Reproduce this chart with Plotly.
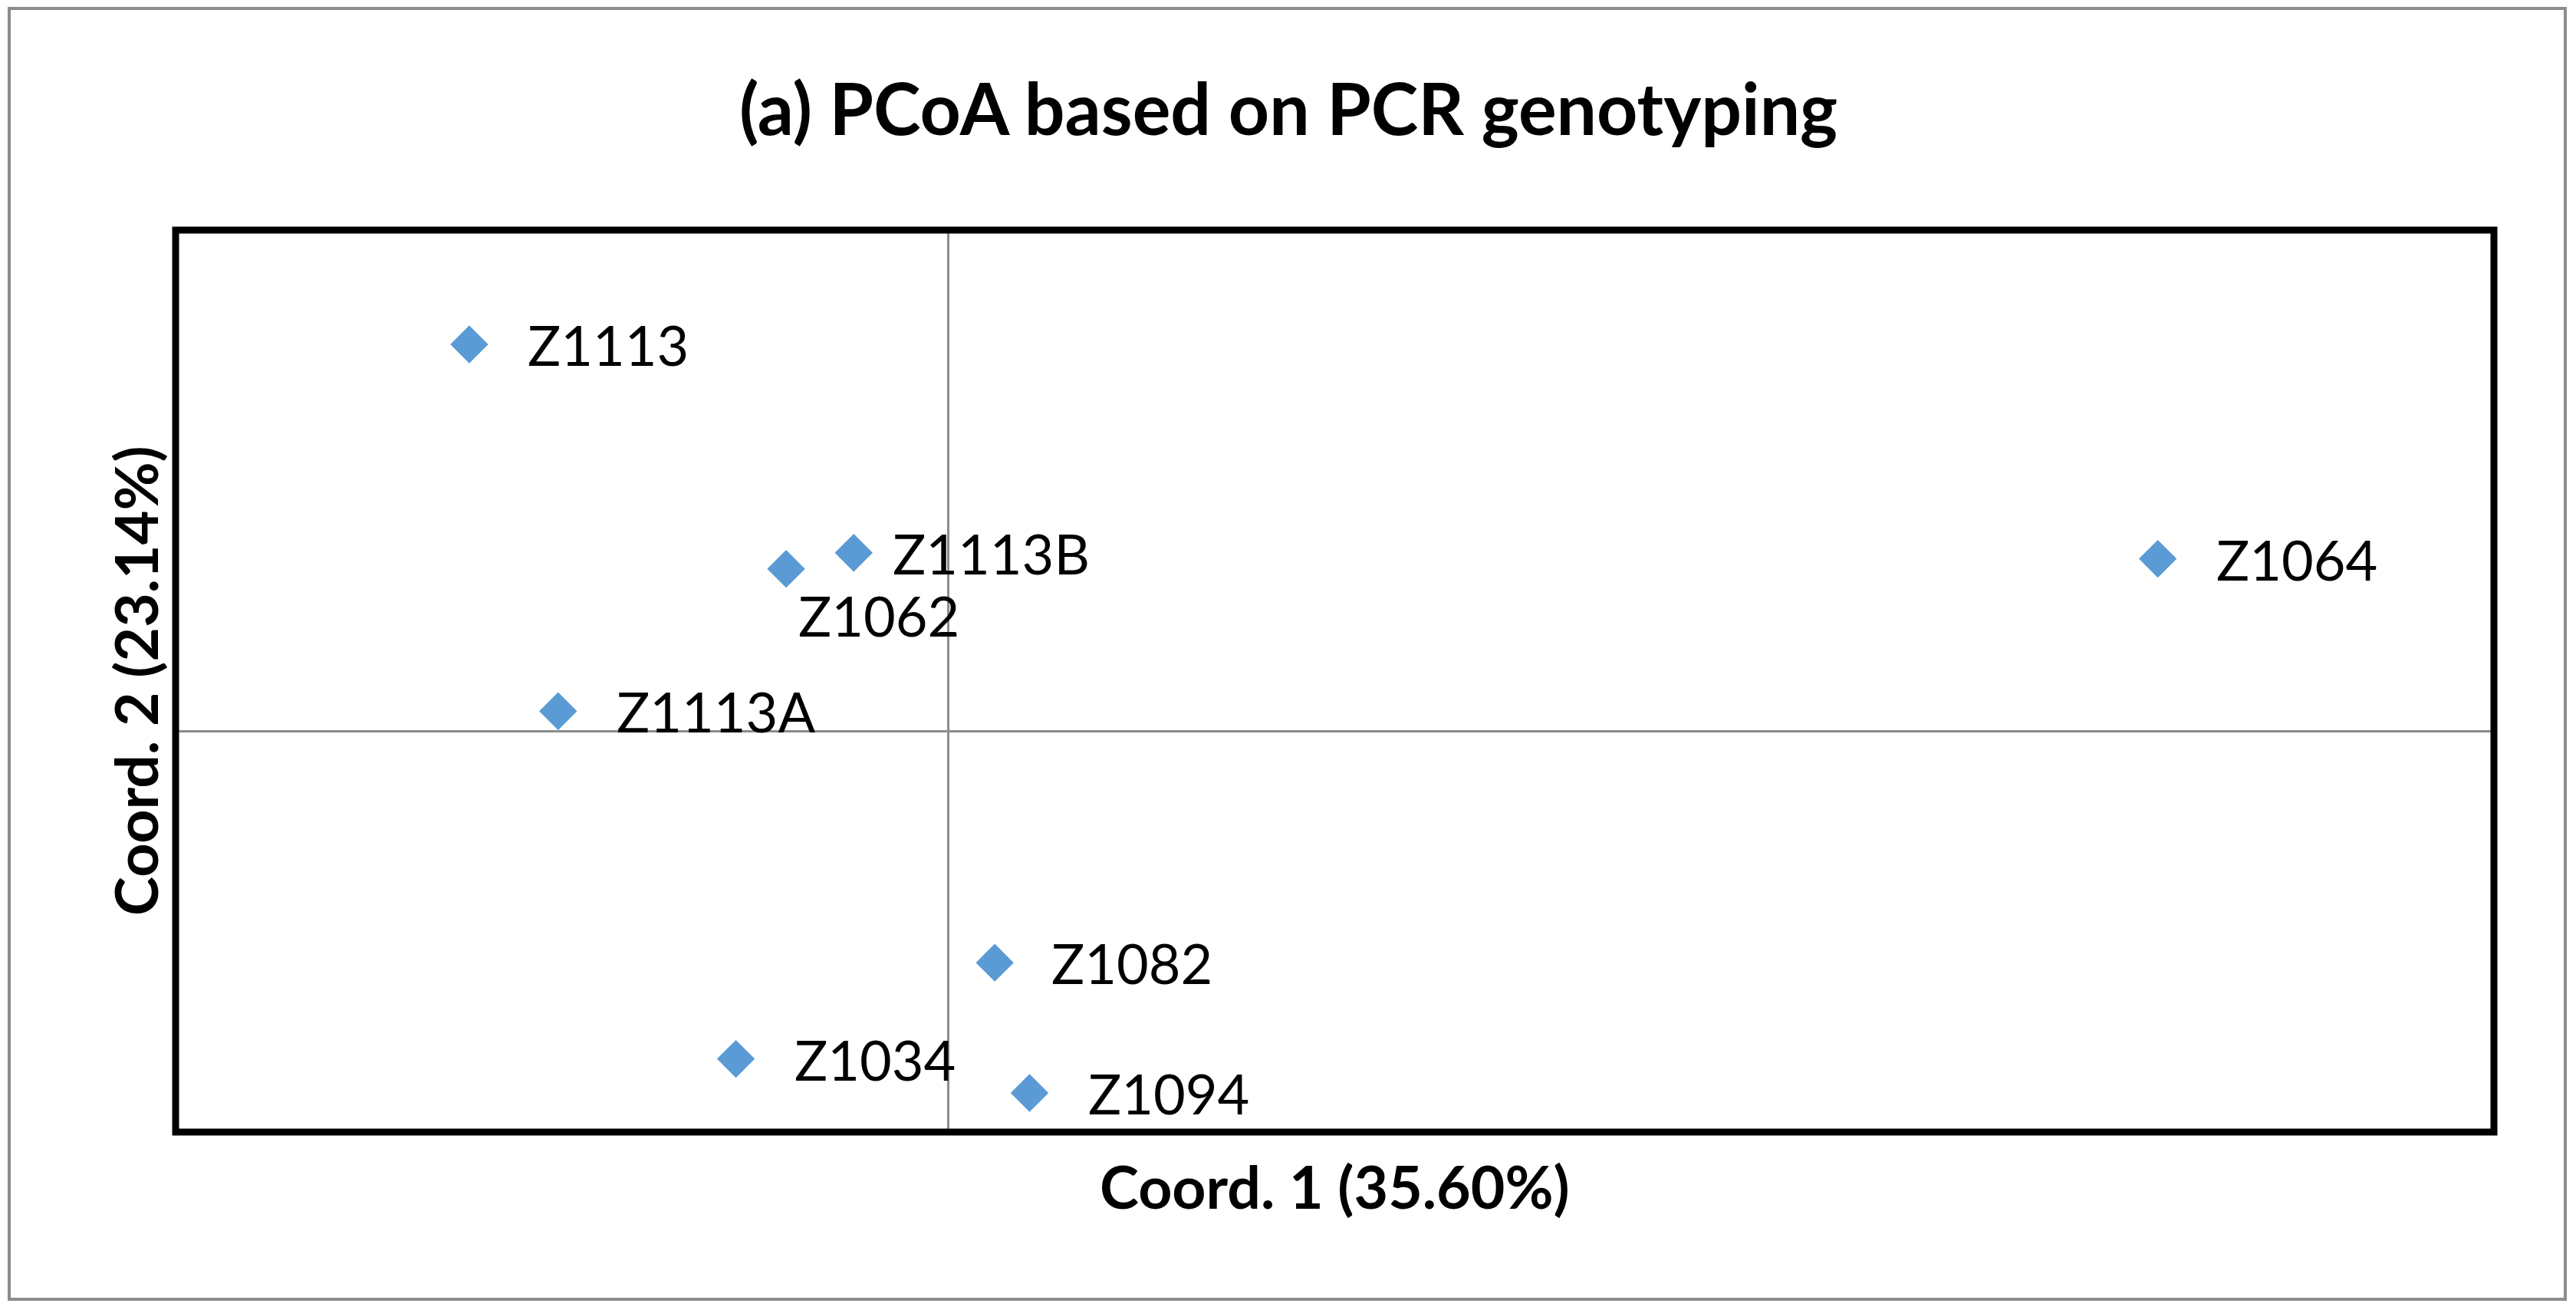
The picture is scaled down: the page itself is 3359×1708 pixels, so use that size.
import plotly.graph_objects as go

# ---- data ----
sample_names = ["Z1113", "Z1113B", "Z1062", "Z1113A", "Z1064", "Z1082", "Z1034", "Z1094"]
coord1_values = [-0.124, -0.0245, -0.042, -0.101, 0.313, 0.012, -0.055, 0.021]
coord2_values = [0.386, 0.178, 0.162, 0.020, 0.172, -0.231, -0.327, -0.361]
title_text = "(a) PCoA based on PCR genotyping"
x_title = "Coord. 1 (35.60%)"
y_title = "Coord. 2 (23.14%)"

# ---- layout geometry (pixels, figure space) ----
W, H = 3343, 1692
ML, MT = 221, 292
PW, PH = 3023, 1176
MR = W - ML - PW
MB = H - MT - PH
OFF = 8  # browser body margin


def px_x(sx):
    return (sx - OFF - ML) / PW


def px_y(sy):
    return 1 - (sy - OFF - MT) / PH


# label offsets (pixels) for readability, styling only
label_shift = {
    "Z1113": (74, 0), "Z1113B": (49, 0), "Z1062": (14, -60), "Z1113A": (74, 0),
    "Z1064": (74, 0), "Z1082": (72, 0), "Z1034": (74, 0), "Z1094": (75, 0),
}

blue = "#5B9BD5"
font_family = "Lato"

fig = go.Figure()
fig.add_trace(go.Scatter(
    x=coord1_values, y=coord2_values, mode="markers",
    marker=dict(symbol="diamond", size=38, color=blue, line=dict(width=0)),
    text=sample_names, hoverinfo="text", showlegend=False,
))

annotations = []
for name, xv, yv in zip(sample_names, coord1_values, coord2_values):
    dx, dy = label_shift[name]
    annotations.append(dict(
        x=xv, y=yv, xref="x", yref="y", text=name, showarrow=False,
        xanchor="left", yanchor="middle", xshift=dx, yshift=dy,
        font=dict(family=font_family, size=72, color="black"),
    ))

# title
annotations.append(dict(
    x=px_x(1680), xref="paper", y=px_y(140), yref="paper", text="<b>" + title_text + "</b>",
    showarrow=False, xanchor="center", yanchor="middle",
    font=dict(family=font_family, size=93, color="black"),
))
# x axis title
annotations.append(dict(
    x=0.5, xref="paper", y=px_y(1546), yref="paper", text="<b>" + x_title + "</b>",
    showarrow=False, xanchor="center", yanchor="middle",
    font=dict(family=font_family, size=77, color="black"),
))
# y axis title
annotations.append(dict(
    x=px_x(176), xref="paper", y=0.5, yref="paper", text="<b>" + y_title + "</b>",
    showarrow=False, xanchor="center", yanchor="middle", textangle=-90,
    font=dict(family=font_family, size=77, color="black"),
))

shapes = [
    # outer chart border
    dict(type="rect", xref="paper", yref="paper",
         x0=px_x(12), x1=px_x(3345), y0=px_y(1694), y1=px_y(11),
         line=dict(color="#8C8C8C", width=4), layer="below"),
    # plot area border
    dict(type="rect", xref="paper", yref="paper", x0=0, x1=1, y0=0, y1=1,
         line=dict(color="black", width=9), layer="above"),
]

fig.update_layout(
    width=W, height=H,
    margin=dict(l=ML, r=MR, t=MT, b=MB, pad=0),
    paper_bgcolor="white", plot_bgcolor="white",
    annotations=annotations, shapes=shapes,
    font=dict(family=font_family),
    xaxis=dict(range=[-0.2, 0.4], showgrid=False, showticklabels=False, ticks="",
               zeroline=True, zerolinecolor="#8C8C8C", zerolinewidth=3, showline=False,
               fixedrange=True),
    yaxis=dict(range=[-0.4, 0.5], showgrid=False, showticklabels=False, ticks="",
               zeroline=True, zerolinecolor="#8C8C8C", zerolinewidth=3, showline=False,
               fixedrange=True),
)

fig.write_html("out.html", config={"displayModeBar": False})
